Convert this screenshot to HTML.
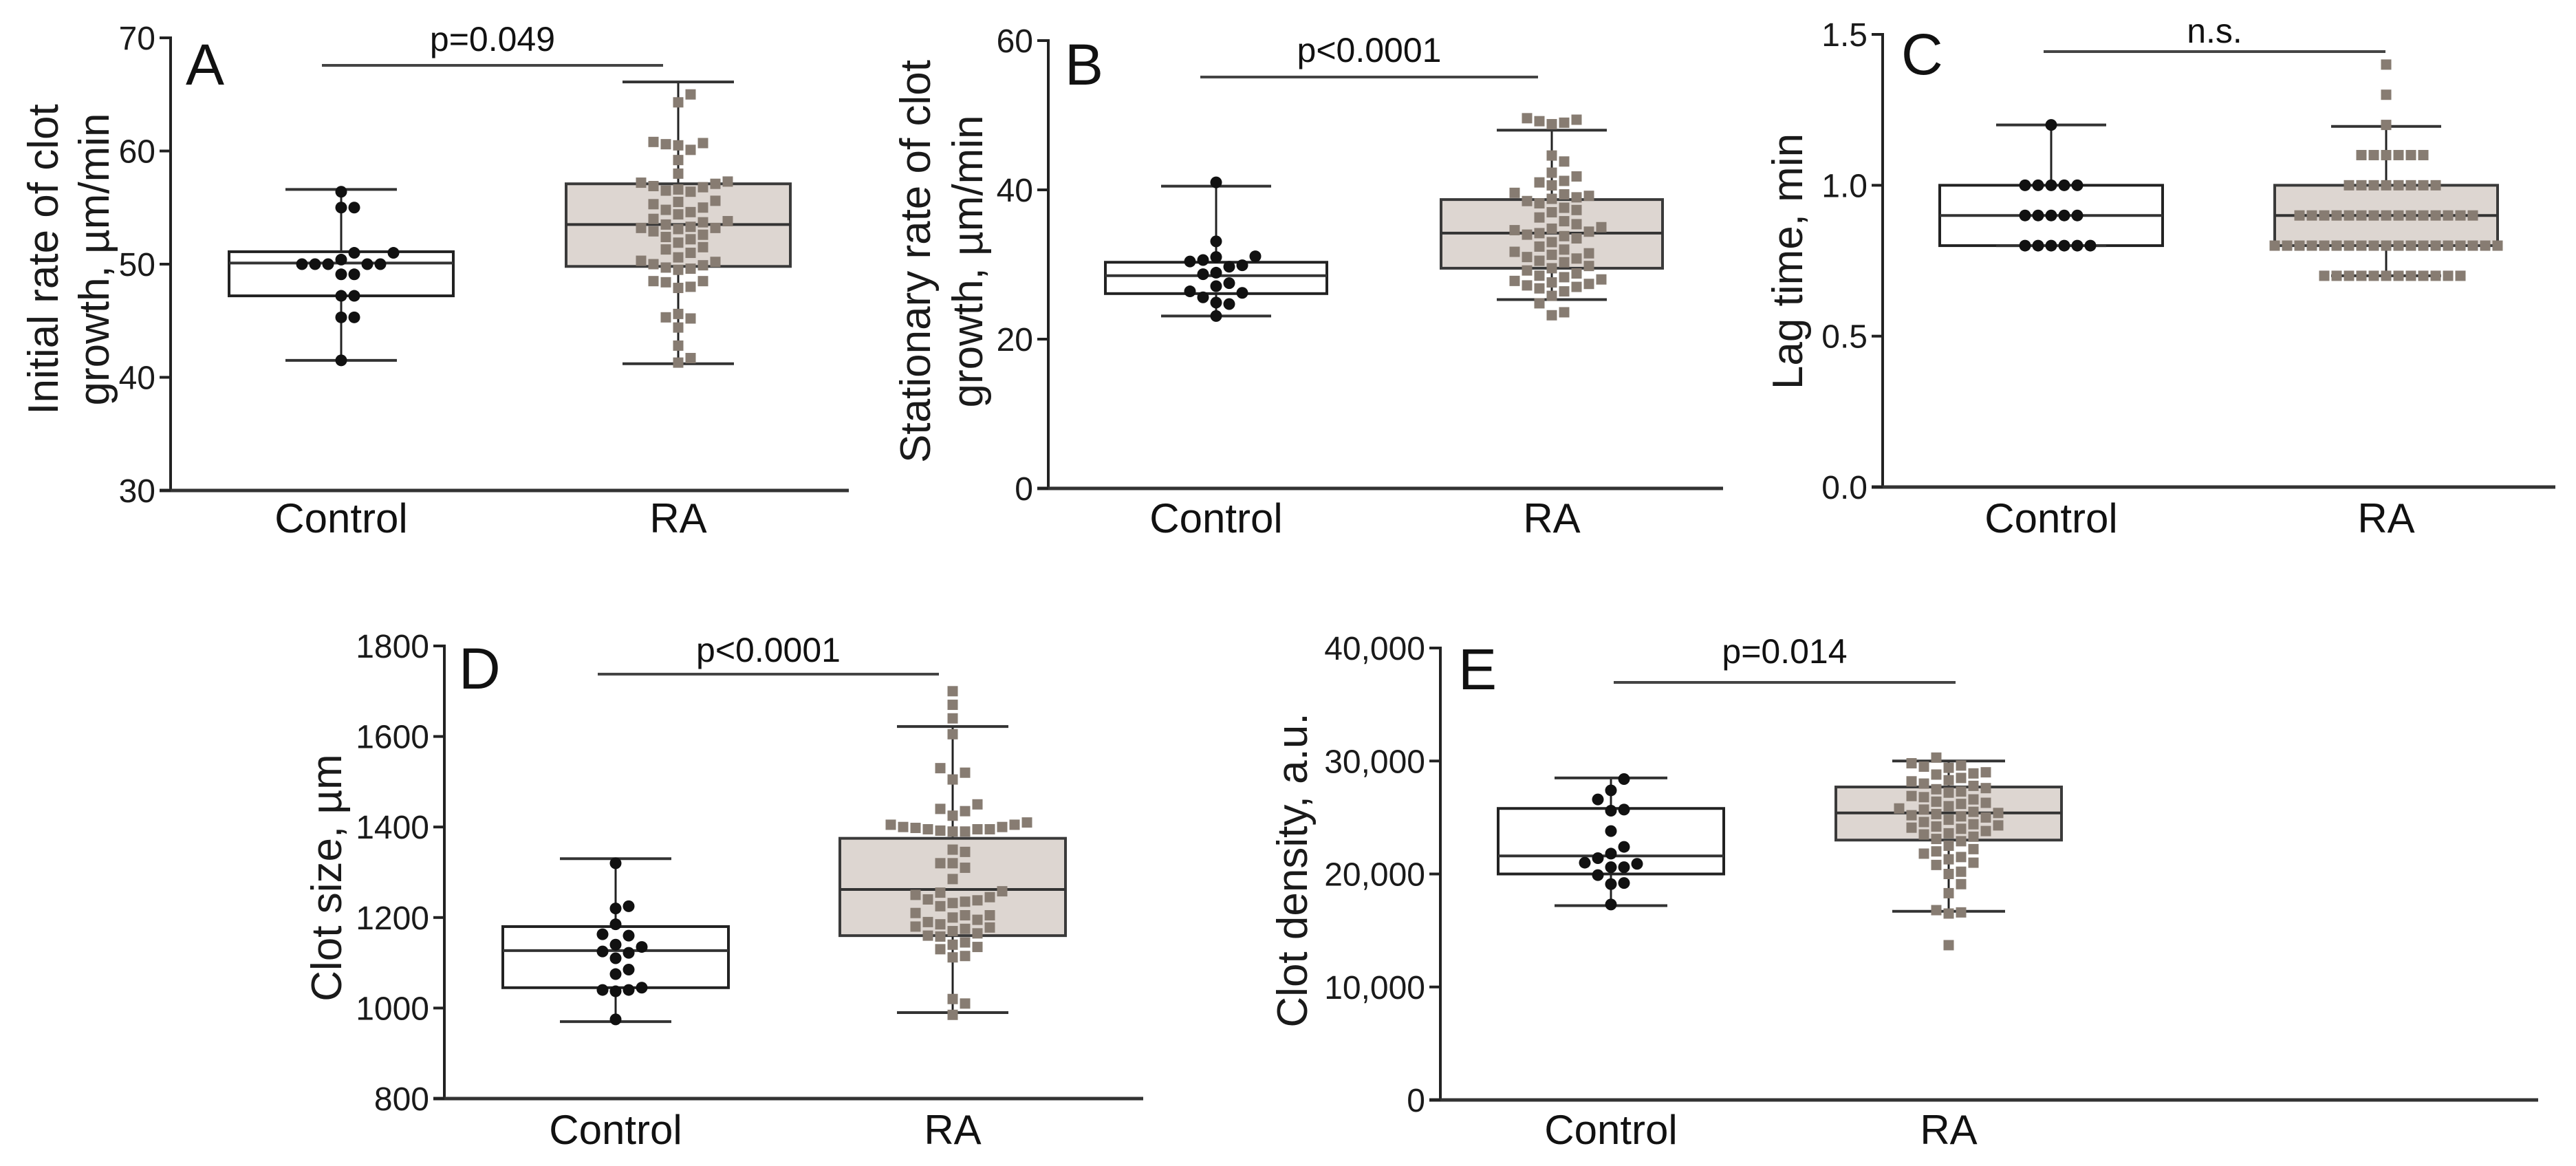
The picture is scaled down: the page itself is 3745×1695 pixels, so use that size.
<!DOCTYPE html>
<html><head><meta charset="utf-8"><style>
html,body{margin:0;padding:0;background:#fff;}
svg{display:block;font-family:"Liberation Sans",Arial,sans-serif;}
</style></head><body>
<svg id="fig" width="3745" height="1695" viewBox="0 0 3745 1695" xmlns="http://www.w3.org/2000/svg"></svg>
<script>
// ---- data ----
const categories = ["Control", "RA"];
// Panel A: initial rate of clot growth
const aTicks = [30, 40, 50, 60, 70];
const aCtrl = [56.4,55.0,55.0,51.0,51.0,50.4,50.0,50.0,50.0,50.0,50.0,49.1,49.1,47.2,47.2,45.3,45.3,41.5];
const aRA = [65.0,64.3,60.7,60.5,60.6,60.8,60.1,59.2,58.0,57.3,57.2,57.1,56.9,56.8,56.6,56.5,56.4,55.6,55.5,55.3,55.0,54.8,54.6,54.4,54.0,53.8,53.7,53.5,53.3,53.2,53.2,53.1,52.9,52.6,52.4,52.2,51.9,51.5,51.3,51.0,50.6,50.3,50.2,50.0,49.9,49.7,49.6,49.5,48.5,48.5,48.4,48.0,47.9,45.6,45.3,45.2,44.4,42.8,41.7,41.3];
const aCtrlBox = [41.5, 47.2, 50.1, 51.1, 56.6];
const aRABox = [41.2, 49.8, 53.5, 57.1, 66.1];
// Panel B: stationary rate
const bTicks = [0, 20, 40, 60];
const bCtrl = [41.0,33.1,31.1,31.0,30.6,30.4,29.9,29.7,28.9,28.7,27.5,27.1,26.4,26.2,25.6,24.9,24.7,23.1];
const bRA = [49.6,49.4,49.2,49.0,48.8,44.6,43.8,42.3,41.8,41.2,41.0,40.6,39.6,39.4,39.2,39.0,38.8,38.5,38.2,37.6,37.3,37.0,36.3,35.8,35.4,35.0,34.8,34.6,34.4,34.2,34.0,33.8,33.5,33.0,32.4,32.0,31.7,31.5,31.3,31.0,30.8,30.5,30.3,29.8,29.5,29.2,28.8,28.5,28.3,28.0,27.8,27.6,27.4,27.2,27.0,26.8,26.4,25.8,24.8,23.6,23.2];
const bCtrlBox = [23.1, 26.1, 28.5, 30.3, 40.5];
const bRABox = [25.3, 29.5, 34.2, 38.7, 48.0];
// Panel C: lag time
const cTicks = [0.0, 0.5, 1.0, 1.5];
const cCtrl = [1.2,1.0,1.0,1.0,1.0,1.0,0.9,0.9,0.9,0.9,0.9,0.8,0.8,0.8,0.8,0.8,0.8];
const cRA = [1.4,1.3,1.2,1.1,1.1,1.1,1.1,1.1,1.1,1.0,1.0,1.0,1.0,1.0,1.0,1.0,1.0,0.9,0.9,0.9,0.9,0.9,0.9,0.9,0.9,0.9,0.9,0.9,0.9,0.9,0.9,0.9,0.8,0.8,0.8,0.8,0.8,0.8,0.8,0.8,0.8,0.8,0.8,0.8,0.8,0.8,0.8,0.8,0.8,0.8,0.8,0.7,0.7,0.7,0.7,0.7,0.7,0.7,0.7,0.7,0.7,0.7,0.7];
const cCtrlBox = [0.8, 0.8, 0.9, 1.0, 1.2];
const cRABox = [0.7, 0.8, 0.9, 1.0, 1.195];
// Panel D: clot size
const dTicks = [800, 1000, 1200, 1400, 1600, 1800];
const dCtrl = [1320,1225,1220,1185,1160,1163,1140,1135,1125,1122,1110,1085,1075,1045,1040,1037,1040,975];
const dRA = [1700,1670,1640,1605,1530,1520,1505,1450,1440,1435,1425,1410,1405,1400,1398,1395,1395,1390,1390,1392,1395,1400,1405,1350,1345,1320,1320,1310,1285,1258,1255,1250,1245,1240,1238,1235,1232,1225,1210,1205,1205,1200,1195,1190,1185,1180,1178,1175,1170,1165,1160,1158,1145,1140,1135,1130,1115,1112,1020,1010,985];
const dCtrlBox = [970, 1045, 1127, 1180, 1330];
const dRABox = [990, 1160, 1262, 1375, 1622];
// Panel E: clot density
const eTicks = [0, 10000, 20000, 30000, 40000];
const eTickLabels = ["0", "10,000", "20,000", "30,000", "40,000"];
const eCtrl = [28400,27400,26600,25700,25600,23800,22400,21800,21400,21000,20600,20900,20600,19900,19200,19100,17300];
const eRA = [30300,29800,29600,29500,29400,29000,28900,28800,28500,28300,28200,28000,27800,27600,27500,27300,27200,26900,26800,26600,26400,26300,26200,26000,25800,25700,25500,25400,25300,25200,25100,25000,24800,24600,24400,24300,24200,24100,24000,23800,23600,23500,23300,23100,22900,22500,22200,22000,21800,21500,21300,21000,20800,20200,20000,19100,18300,16600,16500,16800,13700];
const eCtrlBox = [17200, 20000, 21600, 25800, 28500];
const eRABox = [16700, 23000, 25400, 27700, 30000];
const pLabels = ["p=0.049", "p<0.0001", "n.s.", "p<0.0001", "p=0.014"];

// ---- drawing ----
const NS = "http://www.w3.org/2000/svg";
const svg = document.getElementById("fig");
function mk(tag, attrs, parent, text) {
  const e = document.createElementNS(NS, tag);
  for (const k in attrs) e.setAttribute(k, attrs[k]);
  if (text !== undefined) e.textContent = text;
  (parent || svg).appendChild(e);
  return e;
}
function swarm(vals, yf, sep) {
  const placed = [];
  const sorted = vals.map((v, i) => ({v, y: yf(v)})).sort((a, b) => b.y - a.y);
  sorted.forEach(p => {
    for (let k = 0; k < 60; k++) {
      const off = (k === 0) ? 0 : (k % 2 ? 1 : -1) * Math.ceil(k / 2) * sep;
      let ok = true;
      for (const q of placed) {
        if (Math.abs(q.x - off) < sep - 0.5 && Math.abs(q.y - p.y) < sep - 0.5) { ok = false; break; }
      }
      if (ok) { placed.push({x: off, y: p.y, v: p.v}); break; }
    }
  });
  return placed;
}
function panel(cfg) {
  const g = mk("g", {});
  
  
  const y = v => cfg.yBot - (v - cfg.vmin) / (cfg.vmax - cfg.vmin) * (cfg.yBot - cfg.yTop);
  const ya = mk("line", {x1: cfg.ax, y1: y(cfg.vmax) - 2, x2: cfg.ax, y2: cfg.yBot, stroke: "#222", "stroke-width": 4}, g);
  
  
  const xa = mk("line", {x1: cfg.ax - 16, y1: cfg.yBot, x2: cfg.xEnd, y2: cfg.yBot, stroke: "#333", "stroke-width": 5}, g);
  
  
  cfg.ticks.forEach((t, i) => {
    const tl = mk("line", {x1: cfg.ax - 16, y1: y(t), x2: cfg.ax, y2: y(t), stroke: "#222", "stroke-width": 4}, g);
    
    
    const tx = mk("text", {x: cfg.ax - 22, y: y(t) + 17, "text-anchor": "end", "font-size": 48, fill: "#1a1a1a"}, g, cfg.tickLabels ? cfg.tickLabels[i] : cfg.fmt(t));
    
    
  });
  const tt = mk("text", {transform: `translate(0,${cfg.titleY}) rotate(-90)`, "text-anchor": "middle", "font-size": 62, fill: "#1a1a1a"}, g);
  
  
  cfg.title.forEach((line, i) => {
    mk("tspan", {x: 0, y: cfg.titleX[i]}, tt, line);
  });
  const lt = mk("text", {x: cfg.letterX, y: cfg.letterY, "font-size": 84, fill: "#111"}, g, cfg.letter);
  
  
  const pl = mk("line", {x1: cfg.sig[0], y1: cfg.sig[2], x2: cfg.sig[1], y2: cfg.sig[2], stroke: "#444", "stroke-width": 4}, g);
  
  
  const pt = mk("text", {x: (cfg.sig[0] + cfg.sig[1]) / 2, y: cfg.sig[3], "text-anchor": "middle", "font-size": 50, fill: "#111"}, g, cfg.p);
  
  
  [cfg.cC, cfg.cR].forEach((cx, i) => {
    const cl = mk("text", {x: cx, y: cfg.catY, "text-anchor": "middle", "font-size": 60, fill: "#111"}, g, categories[i]);
    
    
  });
  const groups = [[cfg.cC, cfg.boxC, cfg.ptsC, false], [cfg.cR, cfg.boxR, cfg.ptsR, true]];
  groups.forEach(([cx, b, pts, ra]) => {
    const bg = mk("g", {}, g);
    
    
    const col = ra ? "#3a3a3a" : "#222";
    mk("line", {x1: cx, y1: y(b[4]), x2: cx, y2: y(b[0]), stroke: "#222", "stroke-width": 3}, bg);
    mk("rect", {x: cx - cfg.bh, y: y(b[3]), width: 2 * cfg.bh, height: y(b[1]) - y(b[3]), fill: ra ? "#ddd6d1" : "#fff", stroke: col, "stroke-width": 4}, bg);
    mk("line", {x1: cx - cfg.bh, y1: y(b[2]), x2: cx + cfg.bh, y2: y(b[2]), stroke: "#333", "stroke-width": 4}, bg);
    mk("line", {x1: cx - cfg.ch, y1: y(b[4]), x2: cx + cfg.ch, y2: y(b[4]), stroke: "#333", "stroke-width": 4}, bg);
    mk("line", {x1: cx - cfg.ch, y1: y(b[0]), x2: cx + cfg.ch, y2: y(b[0]), stroke: "#333", "stroke-width": 4}, bg);
    const sw = swarm(pts, y, ra ? 18 : 19);
    sw.forEach(p => {
      let m;
      if (ra) m = mk("rect", {x: cx + p.x - 7.5, y: p.y - 7.5, width: 15, height: 15, fill: "#877c72"}, g);
      else m = mk("circle", {cx: cx + p.x, cy: p.y, r: 8.5, fill: "#111"}, g);
      
      
    });
  });
}
panel({name: "panel-a", ax: 248, yTop: 55, yBot: 713, vmin: 30, vmax: 70, xEnd: 1234, ticks: aTicks, fmt: t => String(t),
  title: ["Initial rate of clot", "growth, µm/min"], titleX: [84, 158], titleY: 377,
  letter: "A", letterX: 270, letterY: 123, p: pLabels[0], sig: [468, 964, 95, 74],
  cC: 496, cR: 986, bh: 163, ch: 81, catY: 774, boxC: aCtrlBox, boxR: aRABox, ptsC: aCtrl, ptsR: aRA});
panel({name: "panel-b", ax: 1524, yTop: 59, yBot: 710, vmin: 0, vmax: 60, xEnd: 2505, ticks: bTicks, fmt: t => String(t),
  title: ["Stationary rate of clot", "growth, µm/min"], titleX: [1352, 1428], titleY: 380,
  letter: "B", letterX: 1548, letterY: 123, p: pLabels[1], sig: [1745, 2236, 112, 90],
  cC: 1768, cR: 2256, bh: 161, ch: 80, catY: 774, boxC: bCtrlBox, boxR: bRABox, ptsC: bCtrl, ptsR: bRA});
panel({name: "panel-c", ax: 2737, yTop: 50, yBot: 708, vmin: 0, vmax: 1.5, xEnd: 3715, ticks: cTicks, fmt: t => t.toFixed(1),
  title: ["Lag time, min"], titleX: [2620], titleY: 380,
  letter: "C", letterX: 2764, letterY: 108, p: pLabels[2], sig: [2971, 3468, 75, 62],
  cC: 2982, cR: 3469, bh: 162, ch: 80, catY: 774, boxC: cCtrlBox, boxR: cRABox, ptsC: cCtrl, ptsR: cRA});
panel({name: "panel-d", ax: 646, yTop: 939, yBot: 1597, vmin: 800, vmax: 1800, xEnd: 1662, ticks: dTicks, fmt: t => String(t),
  title: ["Clot size, µm"], titleX: [496], titleY: 1276,
  letter: "D", letterX: 667, letterY: 1001, p: pLabels[3], sig: [869, 1365, 980, 962],
  cC: 895, cR: 1385, bh: 164, ch: 81, catY: 1663, boxC: dCtrlBox, boxR: dRABox, ptsC: dCtrl, ptsR: dRA});
panel({name: "panel-e", ax: 2094, yTop: 942, yBot: 1599, vmin: 0, vmax: 40000, xEnd: 3690, ticks: eTicks, tickLabels: eTickLabels,
  title: ["Clot density, a.u."], titleX: [1900], titleY: 1265,
  letter: "E", letterX: 2120, letterY: 1002, p: pLabels[4], sig: [2346, 2843, 992, 964],
  cC: 2342, cR: 2833, bh: 164, ch: 82, catY: 1663, boxC: eCtrlBox, boxR: eRABox, ptsC: eCtrl, ptsR: eRA});
</script>
</body></html>
